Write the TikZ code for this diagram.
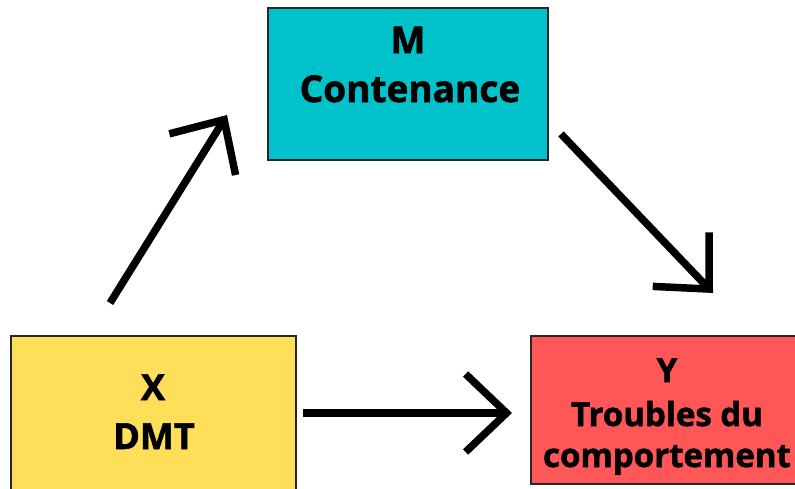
\documentclass[tikz,border=0pt]{standalone}
\usepackage{fontspec}
\setmainfont{Open Sans}[BoldFeatures={FakeBold=1.6}]
\usetikzlibrary{arrows.meta}
\definecolor{mcol}{HTML}{00C2CB}
\definecolor{xcol}{HTML}{FFDE59}
\definecolor{ycol}{HTML}{FF5757}
\begin{document}
\begin{tikzpicture}[x=1pt,y=-1pt,
  box/.style={draw=black!85, line width=1.5pt, inner sep=0pt, outer sep=0pt},
  lbl/.style={font=\bfseries\fontsize{#1}{#1}\selectfont, inner sep=0pt, anchor=base, text=black},
  conn/.style={line width=7.5pt, line cap=butt,
    -{Straight Barb[length=41pt,width=78pt,line cap=butt,line join=miter]}}]
\clip (0,0) rectangle (795,488);
\fill[white] (0,0) rectangle (795,488);
% boxes
\node[box, fill=mcol, minimum width=280pt, minimum height=152pt] (M) at (408,84) {};
\node[box, fill=xcol, minimum width=285pt, minimum height=156pt] (X) at (153.5,414) {};
\node[box, fill=ycol, minimum width=269pt, minimum height=148pt] (Y) at (665.5,410) {};
% texts
\node[lbl=37] (m1) at (408,53) {M};
\node[lbl=37] (m2) at (410,102) {Contenance};
\node[lbl=36] (x1) at (153,400) {X};
\node[lbl=36] (x2) at (154,449) {DMT};
\node[lbl=33] (y1) at (667,382) {Y};
\node[lbl=33] (y2) at (667,426) {Troubles du};
\node[lbl=33] (y3) at (667,467) {comportement};
% connector ends
\coordinate (a1s) at (110,303);
\coordinate (a1e) at (227,115);
\coordinate (a2s) at (561,134);
\coordinate (a2e) at (713,293);
\coordinate (a3s) at (303,413);
\coordinate (a3e) at (512,413);
\draw[conn] (a1s) -- (a1e);
\draw[conn] (a2s) -- (a2e);
\draw[conn] (a3s) -- (a3e);
\end{tikzpicture}
\end{document}
